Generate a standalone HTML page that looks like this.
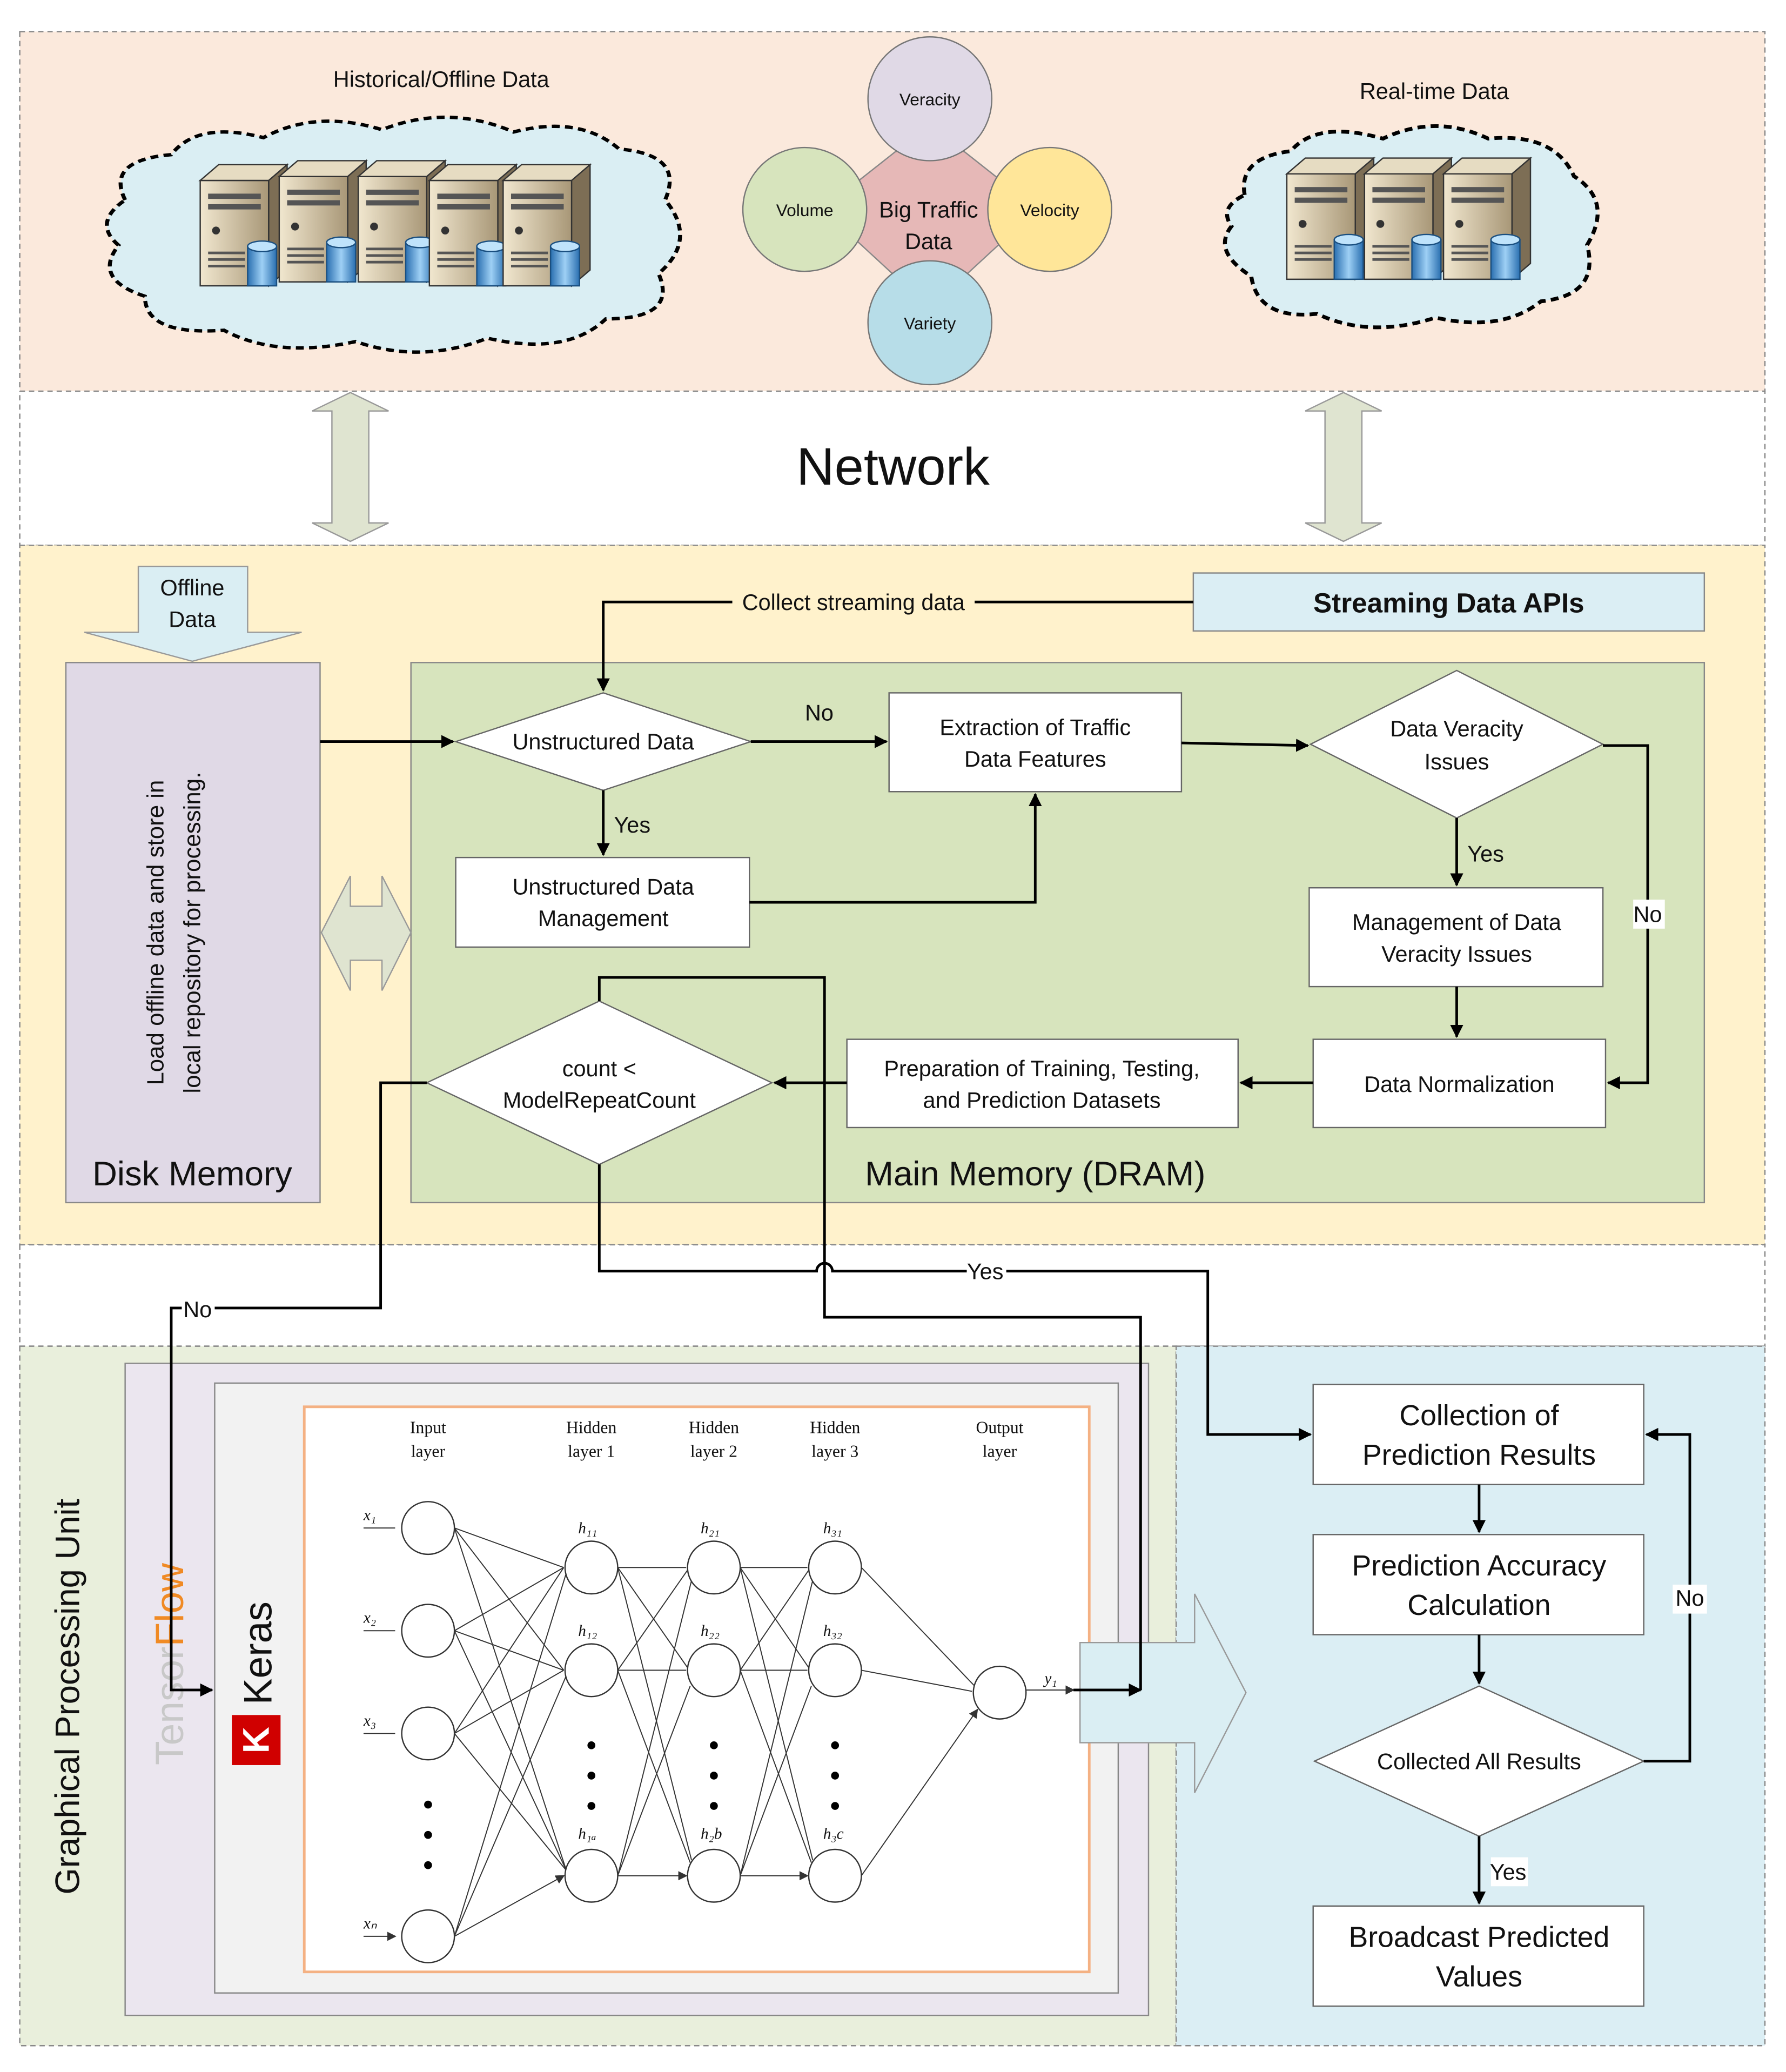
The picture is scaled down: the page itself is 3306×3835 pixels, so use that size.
<!DOCTYPE html>
<html><head><meta charset="utf-8"><style>
html,body{margin:0;padding:0;background:#fff}
svg{display:block}
text{font-family:"Liberation Sans",sans-serif;fill:#111}
.s{font-family:"Liberation Serif",serif}
</style></head><body>
<svg width="3306" height="3835" viewBox="0 0 1356 1573" xmlns="http://www.w3.org/2000/svg">
<defs>
<marker id="ar" markerWidth="10" markerHeight="10" refX="9" refY="5" orient="auto" markerUnits="userSpaceOnUse" viewBox="0 0 10 10"><path d="M0,0 L10,5 L0,10 z" fill="#000"/></marker>
<marker id="as" markerWidth="7" markerHeight="7" refX="6" refY="3.5" orient="auto" markerUnits="userSpaceOnUse" viewBox="0 0 7 7"><path d="M0,0 L7,3.5 L0,7 z" fill="#333"/></marker>
<linearGradient id="srv" x1="0" x2="1"><stop offset="0" stop-color="#f1e7cf"/><stop offset="1" stop-color="#a89777"/></linearGradient>
<linearGradient id="cyl" x1="0" x2="1"><stop offset="0" stop-color="#2a6fb0"/><stop offset="0.5" stop-color="#9ed0f5"/><stop offset="1" stop-color="#2a6fb0"/></linearGradient>
<g id="server">
<path d="M0,12 L52,12 L52,92 L0,92 z" fill="url(#srv)" stroke="#333"/>
<path d="M0,12 L14,0 L66,0 L52,12 z" fill="#e6dcc2" stroke="#333"/>
<path d="M52,12 L66,0 L66,80 L52,92 z" fill="#7d6e55" stroke="#333"/>
<rect x="6" y="22" width="40" height="4" fill="#555"/><rect x="6" y="30" width="40" height="4" fill="#555"/>
<circle cx="12" cy="50" r="3" fill="#333"/>
<rect x="6" y="66" width="28" height="2" fill="#555"/><rect x="6" y="71" width="28" height="2" fill="#555"/><rect x="6" y="76" width="28" height="2" fill="#555"/>
<rect x="36" y="62" width="22" height="30" fill="url(#cyl)" stroke="#1a4f80"/>
<ellipse cx="47" cy="62" rx="11" ry="4" fill="#bfe3fb" stroke="#1a4f80"/>
</g>
</defs>

<!-- bands -->
<rect x="15" y="24" width="1325" height="273" fill="#fbe9dc" stroke="#888" stroke-dasharray="4,3"/>
<rect x="15" y="297" width="1325" height="117" fill="#fff" stroke="#888" stroke-dasharray="4,3"/>
<rect x="15" y="414" width="1325" height="531" fill="#fff2cc" stroke="#888" stroke-dasharray="4,3"/>
<rect x="15" y="945" width="1325" height="77" fill="#fff" stroke="#888" stroke-dasharray="4,3"/>
<rect x="15" y="1022" width="878" height="531" fill="#e9efdc" stroke="#888" stroke-dasharray="4,3"/>
<rect x="893" y="1022" width="447" height="531" fill="#dbeef4" stroke="#888" stroke-dasharray="4,3"/>

<!-- clouds -->
<path transform="translate(0,40) scale(1,0.86)" d="M95,130 Q80,95 130,90 Q150,60 200,75 Q240,50 290,68 Q340,45 390,70 Q440,55 470,85 Q520,90 505,130 Q530,165 500,195 Q515,235 460,235 Q430,268 370,252 Q320,275 270,255 Q210,270 170,245 Q110,250 110,215 Q70,200 90,170 Q70,150 95,130 z" fill="#daeef3" stroke="#000" stroke-width="3" stroke-dasharray="6,4"/>
<path transform="translate(0,15) scale(1,0.95)" d="M945,140 Q940,110 980,105 Q1000,80 1050,95 Q1090,75 1130,95 Q1180,90 1195,125 Q1225,145 1205,180 Q1215,220 1170,225 Q1140,250 1090,238 Q1040,255 1000,235 Q955,240 950,205 Q920,185 935,165 Q925,150 945,140 z" fill="#daeef3" stroke="#000" stroke-width="3" stroke-dasharray="6,4"/>
<text x="335" y="66" font-size="17" text-anchor="middle">Historical/Offline Data</text>
<text x="1089" y="75" font-size="17" text-anchor="middle">Real-time Data</text>
<use href="#server" x="152" y="125"/><use href="#server" x="212" y="122"/><use href="#server" x="272" y="122"/><use href="#server" x="326" y="125"/><use href="#server" x="382" y="125"/>
<use href="#server" x="977" y="120"/><use href="#server" x="1036" y="120"/><use href="#server" x="1096" y="120"/>

<!-- 4V -->
<polygon points="680,115 732,115 770,145 770,175 732,210 680,210 642,175 642,145" fill="#e6b8b7" stroke="#888"/>
<circle cx="706" cy="75" r="47" fill="#e0d9e6" stroke="#777"/>
<circle cx="611" cy="159" r="47" fill="#d7e4bd" stroke="#777"/>
<circle cx="797" cy="159" r="47" fill="#ffe699" stroke="#777"/>
<circle cx="706" cy="245" r="47" fill="#b7dde8" stroke="#777"/>
<text x="706" y="80" font-size="13" text-anchor="middle">Veracity</text>
<text x="611" y="164" font-size="13" text-anchor="middle">Volume</text>
<text x="797" y="164" font-size="13" text-anchor="middle">Velocity</text>
<text x="706" y="250" font-size="13" text-anchor="middle">Variety</text>
<text x="705" y="165" font-size="17" text-anchor="middle">Big Traffic</text>
<text x="705" y="189" font-size="17" text-anchor="middle">Data</text>

<!-- network -->
<text x="678" y="368" font-size="40" text-anchor="middle">Network</text>
<polygon points="266,298 295,312 280,312 280,397 295,397 266,411 237,397 252,397 252,312 237,312" fill="#dfe4d0" stroke="#999"/>
<polygon points="1020,298 1049,312 1034,312 1034,397 1049,397 1020,411 991,397 1006,397 1006,312 991,312" fill="#dfe4d0" stroke="#999"/>

<!-- memory -->
<rect x="50" y="503" width="193" height="410" fill="#e0d9e6" stroke="#888"/>
<rect x="312" y="503" width="982" height="410" fill="#d7e4bd" stroke="#888"/>
<rect x="906" y="435" width="388" height="44" fill="#dbeef4" stroke="#888"/>
<text x="1100" y="465" font-size="21" font-weight="bold" text-anchor="middle">Streaming Data APIs</text>
<polygon points="105,430 188,430 188,480 229,480 146,502 64,480 105,480" fill="#daeef3" stroke="#999"/>
<text x="146" y="452" font-size="17" text-anchor="middle">Offline</text>
<text x="146" y="476" font-size="17" text-anchor="middle">Data</text>
<text transform="translate(124,708) rotate(-90)" font-size="18" text-anchor="middle">Load offline data and store in</text>
<text transform="translate(152,708) rotate(-90)" font-size="18" text-anchor="middle">local repository for processing.</text>
<text x="146" y="900" font-size="26" text-anchor="middle">Disk Memory</text>
<text x="786" y="900" font-size="26" text-anchor="middle">Main  Memory (DRAM)</text>
<polygon points="244,708 266,665 266,688 290,688 290,665 312,708 290,752 290,729 266,729 266,752" fill="#dfe4d0" stroke="#999"/>

<g fill="#fff" stroke="#666">
<polygon points="346,563 458,526 570,563 458,600"/>
<polygon points="995,565 1106,509 1217,565 1106,621"/>
<polygon points="324,822 455,760 586,822 455,884"/>
<polygon points="998,1337 1123,1280 1248,1337 1123,1394"/>
<rect x="675" y="526" width="222" height="75"/>
<rect x="346" y="651" width="223" height="68"/>
<rect x="994" y="674" width="223" height="75"/>
<rect x="997" y="789" width="222" height="67"/>
<rect x="643" y="789" width="297" height="67"/>
<rect x="997" y="1051" width="251" height="76"/>
<rect x="997" y="1165" width="251" height="76"/>
<rect x="997" y="1447" width="251" height="76"/>
</g>
<g font-size="17" text-anchor="middle">
<text x="458" y="569">Unstructured Data</text>
<text x="1106" y="559">Data Veracity</text><text x="1106" y="584">Issues</text>
<text x="455" y="817">count &lt;</text><text x="455" y="841">ModelRepeatCount</text>
<text x="1123" y="1343">Collected All Results</text>
<text x="786" y="558">Extraction of Traffic</text><text x="786" y="582">Data Features</text>
<text x="458" y="679">Unstructured Data</text><text x="458" y="703">Management</text>
<text x="1106" y="706">Management of Data</text><text x="1106" y="730">Veracity Issues</text>
<text x="1108" y="829">Data Normalization</text>
<text x="791" y="817">Preparation of Training, Testing,</text><text x="791" y="841">and Prediction Datasets</text>
</g>
<g font-size="22" text-anchor="middle">
<text x="1123" y="1082">Collection of</text><text x="1123" y="1112">Prediction Results</text>
<text x="1123" y="1196">Prediction Accuracy</text><text x="1123" y="1226">Calculation</text>
<text x="1123" y="1478">Broadcast Predicted</text><text x="1123" y="1508">Values</text>
</g>

<!-- GPU -->
<rect x="95" y="1035" width="777" height="495" fill="#ebe6ef" stroke="#888"/>
<rect x="163" y="1050" width="686" height="463" fill="#f2f2f2" stroke="#888"/>
<rect x="231" y="1068" width="596" height="429" fill="#fff" stroke="#f4b183" stroke-width="2"/>
<text transform="translate(60,1288) rotate(-90)" font-size="26" text-anchor="middle">Graphical Processing Unit</text>
<text transform="translate(139,1340) rotate(-90)" font-size="30"><tspan style="fill:#c8c8c8">Tensor</tspan><tspan style="fill:#f08a24">Flow</tspan></text>
<rect x="176" y="1302" width="37" height="38" fill="#d00000"/>
<text transform="translate(204,1321) rotate(-90)" font-size="28" text-anchor="middle" style="fill:#fff" font-weight="bold">K</text>
<text transform="translate(206,1255) rotate(-90)" font-size="30" text-anchor="middle">Keras</text>
<polygon points="820,1247 907,1247 907,1210 946,1285 907,1361 907,1323 820,1323" fill="#daeef3" stroke="#999"/>

<!-- NN -->
<g font-size="13" text-anchor="middle">
<text x="325" y="1088" class="s">Input</text><text x="325" y="1106" class="s">layer</text>
<text x="449" y="1088" class="s">Hidden</text><text x="449" y="1106" class="s">layer 1</text>
<text x="542" y="1088" class="s">Hidden</text><text x="542" y="1106" class="s">layer 2</text>
<text x="634" y="1088" class="s">Hidden</text><text x="634" y="1106" class="s">layer 3</text>
<text x="759" y="1088" class="s">Output</text><text x="759" y="1106" class="s">layer</text>
</g>
<g stroke="#333" stroke-width="0.8" marker-end="url(#as)">
<path d="M345,1160L428,1190M345,1160L428,1268M345,1160L430,1420M345,1238L428,1190M345,1238L428,1268M345,1238L430,1420M345,1316L428,1190M345,1316L428,1268M345,1316L430,1420M345,1470L430,1194M345,1470L430,1272M345,1470L428,1424"/>
<path d="M469,1190L521,1190M469,1190L522,1266M469,1190L525,1412M469,1268L522,1192M469,1268L521,1268M469,1268L524,1414M469,1424L525,1200M469,1424L524,1280M469,1424L521,1424"/>
<path d="M562,1190L613,1190M562,1190L614,1266M562,1190L617,1412M562,1268L614,1192M562,1268L613,1268M562,1268L616,1414M562,1424L617,1200M562,1424L616,1280M562,1424L613,1424"/>
<path d="M654,1190L740,1280M654,1268L738,1284M654,1424L742,1298"/>
<path d="M779,1283L815,1283"/>
<path d="M276,1160L300,1160M276,1238L300,1238M276,1316L300,1316M276,1470L300,1470"/>
</g>
<g fill="#fff" stroke="#333">
<circle cx="325" cy="1160" r="20"/><circle cx="325" cy="1238" r="20"/><circle cx="325" cy="1316" r="20"/><circle cx="325" cy="1470" r="20"/>
<circle cx="449" cy="1190" r="20"/><circle cx="449" cy="1268" r="20"/><circle cx="449" cy="1424" r="20"/>
<circle cx="542" cy="1190" r="20"/><circle cx="542" cy="1268" r="20"/><circle cx="542" cy="1424" r="20"/>
<circle cx="634" cy="1190" r="20"/><circle cx="634" cy="1268" r="20"/><circle cx="634" cy="1424" r="20"/>
<circle cx="759" cy="1285" r="20"/>
</g>
<g fill="#000">
<circle cx="325" cy="1370" r="3"/><circle cx="325" cy="1393" r="3"/><circle cx="325" cy="1416" r="3"/>
<circle cx="449" cy="1325" r="3"/><circle cx="449" cy="1348" r="3"/><circle cx="449" cy="1371" r="3"/>
<circle cx="542" cy="1325" r="3"/><circle cx="542" cy="1348" r="3"/><circle cx="542" cy="1371" r="3"/>
<circle cx="634" cy="1325" r="3"/><circle cx="634" cy="1348" r="3"/><circle cx="634" cy="1371" r="3"/>
</g>
<g font-size="12" font-style="italic">
<text x="276" y="1154" class="s">x₁</text><text x="276" y="1232" class="s">x₂</text><text x="276" y="1310" class="s">x₃</text><text x="276" y="1464" class="s">xₙ</text>
<text x="439" y="1164" class="s">h₁₁</text><text x="439" y="1242" class="s">h₁₂</text><text x="439" y="1396" class="s">h₁ₐ</text>
<text x="532" y="1164" class="s">h₂₁</text><text x="532" y="1242" class="s">h₂₂</text><text x="532" y="1396" class="s">h₂b</text>
<text x="625" y="1164" class="s">h₃₁</text><text x="625" y="1242" class="s">h₃₂</text><text x="625" y="1396" class="s">h₃c</text>
<text x="793" y="1278" class="s">y₁</text>
</g>

<!-- connectors -->
<g fill="none" stroke="#000" stroke-width="2">
<path d="M906,457 L458,457 L458,524" marker-end="url(#ar)"/>
<path d="M243,563 L344,563" marker-end="url(#ar)"/>
<path d="M570,563 L673,563" marker-end="url(#ar)"/>
<path d="M458,600 L458,649" marker-end="url(#ar)"/>
<path d="M569,685 L786,685 L786,603" marker-end="url(#ar)"/>
<path d="M897,564 L993,566" marker-end="url(#ar)"/>
<path d="M1106,621 L1106,672" marker-end="url(#ar)"/>
<path d="M1217,566 L1251,566 L1251,822 L1221,822" marker-end="url(#ar)"/>
<path d="M1106,749 L1106,787" marker-end="url(#ar)"/>
<path d="M997,822 L942,822" marker-end="url(#ar)"/>
<path d="M643,822 L588,822" marker-end="url(#ar)"/>
<path d="M324,822 L289,822 L289,993 L130,993 L130,1283 L161,1283" marker-end="url(#ar)"/>
<path d="M455,884 L455,965 L620,965 A6,6 0 0 1 632,965 L917,965 L917,1089 L995,1089" marker-end="url(#ar)"/>
<path d="M455,760 L455,742 L626,742 L626,1000 L866,1000 L866,1283"/>
<path d="M815,1283 L866,1283" marker-end="url(#ar)"/>
<path d="M1123,1127 L1123,1163" marker-end="url(#ar)"/>
<path d="M1123,1241 L1123,1278" marker-end="url(#ar)"/>
<path d="M1123,1394 L1123,1445" marker-end="url(#ar)"/>
<path d="M1248,1337 L1283,1337 L1283,1089 L1250,1089" marker-end="url(#ar)"/>
</g>
<g font-size="17" text-anchor="middle">
<rect x="556" y="447" width="184" height="20" fill="#fff2cc"/><text x="648" y="463">Collect streaming data</text>
<text x="622" y="547">No</text>
<text x="480" y="632">Yes</text>
<text x="1128" y="654">Yes</text>
<rect x="1240" y="683" width="24" height="22" fill="#fff"/><text x="1251" y="700">No</text>
<rect x="138" y="984" width="25" height="20" fill="#fff"/><text x="150" y="1000">No</text>
<rect x="734" y="956" width="30" height="20" fill="#fff"/><text x="748" y="971">Yes</text>
<rect x="1132" y="1410" width="28" height="22" fill="#fff"/><text x="1145" y="1427">Yes</text>
<rect x="1270" y="1203" width="26" height="22" fill="#fff"/><text x="1283" y="1219">No</text>
</g>
</svg>
</body></html>
